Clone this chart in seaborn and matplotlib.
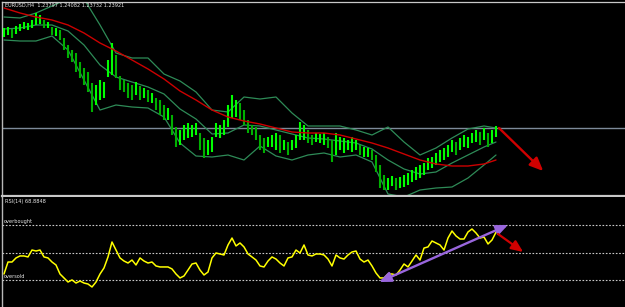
import numpy as np
import pandas as pd
import matplotlib
matplotlib.use("Agg")
import matplotlib.pyplot as plt
import seaborn as sns

# ---------------- data ----------------
title_text = "EURUSD,H4  1.23797 1.24082 1.23732 1.23921"
rsi_title = "RSI(14) 68.8848"
bid_price = 1.2392

bar_high = [1.2592, 1.2594, 1.2590, 1.2596, 1.2600, 1.2604, 1.2602, 1.2608, 1.2622, 1.2618,
            1.2608, 1.2604, 1.2594, 1.2592, 1.2588, 1.2572, 1.2558, 1.2548, 1.2542, 1.2524,
            1.2512, 1.2504, 1.2482, 1.2478, 1.2488, 1.2484, 1.2528, 1.2562, 1.2538, 1.2496,
            1.2488, 1.2482, 1.2478, 1.2484, 1.2476, 1.2472, 1.2468, 1.2462, 1.2452, 1.2448,
            1.2438, 1.2432, 1.2418, 1.2394, 1.2388, 1.2398, 1.2402, 1.2398, 1.2402, 1.2382,
            1.2372, 1.2368, 1.2374, 1.2402, 1.2398, 1.2408, 1.2438, 1.2458, 1.2448, 1.2442,
            1.2428, 1.2408, 1.2398, 1.2394, 1.2378, 1.2372, 1.2374, 1.2378, 1.2382, 1.2378,
            1.2368, 1.2364, 1.2368, 1.2378, 1.2404, 1.2398, 1.2388, 1.2378, 1.2382, 1.2380,
            1.2382, 1.2374, 1.2368, 1.2382, 1.2374, 1.2372, 1.2368, 1.2374, 1.2368, 1.2358,
            1.2354, 1.2352, 1.2348, 1.2338, 1.2318, 1.2298, 1.2292, 1.2296, 1.2292, 1.2294,
            1.2298, 1.2302, 1.2308, 1.2314, 1.2318, 1.2322, 1.2332, 1.2334, 1.2342, 1.2348,
            1.2352, 1.2358, 1.2368, 1.2364, 1.2372, 1.2378, 1.2374, 1.2382, 1.2388, 1.2384,
            1.2392, 1.2382, 1.2388, 1.2396]
bar_low = [1.2574, 1.2578, 1.2572, 1.2580, 1.2586, 1.2590, 1.2588, 1.2592, 1.2598, 1.2600,
           1.2592, 1.2592, 1.2578, 1.2576, 1.2568, 1.2548, 1.2532, 1.2524, 1.2504, 1.2492,
           1.2478, 1.2464, 1.2424, 1.2438, 1.2448, 1.2452, 1.2494, 1.2498, 1.2492, 1.2468,
           1.2464, 1.2452, 1.2448, 1.2458, 1.2448, 1.2452, 1.2444, 1.2442, 1.2428, 1.2418,
           1.2408, 1.2408, 1.2378, 1.2354, 1.2358, 1.2368, 1.2372, 1.2374, 1.2378, 1.2348,
           1.2332, 1.2338, 1.2344, 1.2374, 1.2372, 1.2378, 1.2394, 1.2412, 1.2414, 1.2408,
           1.2398, 1.2382, 1.2378, 1.2368, 1.2348, 1.2342, 1.2354, 1.2354, 1.2348, 1.2342,
           1.2348, 1.2338, 1.2348, 1.2352, 1.2368, 1.2368, 1.2362, 1.2358, 1.2364, 1.2362,
           1.2358, 1.2352, 1.2324, 1.2338, 1.2348, 1.2342, 1.2348, 1.2344, 1.2348, 1.2338,
           1.2334, 1.2334, 1.2328, 1.2304, 1.2272, 1.2268, 1.2268, 1.2276, 1.2268, 1.2272,
           1.2274, 1.2278, 1.2284, 1.2288, 1.2292, 1.2298, 1.2308, 1.2312, 1.2318, 1.2324,
           1.2328, 1.2334, 1.2344, 1.2338, 1.2348, 1.2354, 1.2352, 1.2362, 1.2364, 1.2358,
           1.2368, 1.2354, 1.2362, 1.2374]

band_idx = [0, 4, 8, 12, 16, 20, 24, 28, 32, 36, 40, 44, 48, 52, 56, 60,
            64, 68, 72, 76, 80, 84, 88, 92, 96, 100, 104, 108, 112, 116, 120, 123]
bb_upper = [1.2614, 1.2612, 1.2622, 1.2636, 1.2650, 1.2650, 1.2598, 1.2542, 1.2532, 1.2532,
            1.2500, 1.2486, 1.2464, 1.2428, 1.2424, 1.2454, 1.2450, 1.2454, 1.2422, 1.2396,
            1.2396, 1.2396, 1.2388, 1.2378, 1.2394, 1.2364, 1.2338, 1.2352, 1.2372, 1.2390,
            1.2396, 1.2392]
bb_middle = [1.2590, 1.2592, 1.2598, 1.2598, 1.2586, 1.2558, 1.2518, 1.2494, 1.2484, 1.2474,
             1.2460, 1.2430, 1.2410, 1.2380, 1.2382, 1.2398, 1.2396, 1.2388, 1.2380, 1.2372,
             1.2370, 1.2366, 1.2362, 1.2350, 1.2328, 1.2310, 1.2300, 1.2304, 1.2322, 1.2338,
             1.2354, 1.2364]
bb_lower = [1.2568, 1.2566, 1.2566, 1.2576, 1.2548, 1.2488, 1.2428, 1.2438, 1.2434, 1.2432,
            1.2414, 1.2362, 1.2336, 1.2334, 1.2338, 1.2328, 1.2356, 1.2336, 1.2328, 1.2338,
            1.2342, 1.2334, 1.2338, 1.2324, 1.2260, 1.2254, 1.2268, 1.2272, 1.2274, 1.2292,
            1.2318, 1.2338]
ma_slow = [1.2632, 1.2622, 1.2614, 1.2608, 1.2598, 1.2582, 1.2562, 1.2546, 1.2528, 1.2510,
           1.2490, 1.2466, 1.2448, 1.2428, 1.2414, 1.2406, 1.2400, 1.2392, 1.2384, 1.2382,
           1.2382, 1.2378, 1.2370, 1.2362, 1.2352, 1.2340, 1.2328, 1.2320, 1.2316, 1.2316,
           1.2320, 1.2328]

rsi_values = [30.9, 41.8, 41.8, 45.5, 47.3, 47.3, 46.4, 52.7, 51.8, 52.7,
              46.4, 45.5, 41.8, 39.1, 30.9, 27.3, 23.6, 25.5, 22.7, 24.5,
              22.7, 21.8, 19.1, 23.6, 30.9, 36.4, 46.4, 60.0, 52.7, 45.5,
              42.7, 40.9, 43.6, 39.1, 45.5, 42.7, 40.9, 41.8, 38.2, 37.3,
              37.3, 37.3, 35.5, 30.9, 27.3, 29.1, 34.5, 40.0, 40.9, 34.5,
              30.0, 32.7, 45.5, 50.0, 49.1, 48.2, 57.3, 63.6, 56.4, 59.1,
              55.5, 49.1, 46.4, 43.6, 38.2, 37.3, 42.7, 46.4, 44.5, 40.9,
              38.2, 45.5, 46.4, 52.7, 50.0, 57.3, 48.2, 47.3, 49.1, 49.1,
              48.2, 44.5, 38.2, 48.2, 45.5, 44.5, 48.2, 50.9, 51.8, 44.5,
              41.8, 43.6, 38.2, 31.8, 27.3, 27.3, 30.9, 30.9, 30.0, 34.5,
              40.0, 37.3, 42.7, 48.2, 43.6, 54.5, 55.5, 60.9, 59.1, 57.3,
              52.7, 63.6, 70.0, 65.5, 62.7, 62.7, 69.1, 71.8, 68.2, 63.6,
              64.5, 58.2, 61.8, 68.88]
rsi_levels = [75, 50, 25]
level_names = ["overbought", "oversold"]

# arrows (start, end) in data units
price_arrow = [(123.75, 1.2392), (134.8, 1.2306)]
rsi_up_arrow = [(93.8, 23.6), (126.0, 75.5)]
rsi_down_arrow = [(123.5, 67.3), (129.8, 50.9)]

# ---------------- figure ----------------
W, H = 625, 307
fig = plt.figure(figsize=(W / 100, H / 100), dpi=100, facecolor="black")
sns.set_style("dark")

def frac(x0, y0, x1, y1):
    return [x0 / W, 1 - y1 / H, (x1 - x0) / W, (y1 - y0) / H]

ax1 = fig.add_axes(frac(2, 1.5, 626, 196))
ax2 = fig.add_axes(frac(2, 197, 626, 307))
for ax in (ax1, ax2):
    ax.set_facecolor("black")
    ax.set_xticks([])
    ax.set_yticks([])
    ax.grid(False)
    ax.set_xlim(-0.5, 155.5)
    for s in ax.spines.values():
        s.set_visible(False)
    ax.spines["left"].set_visible(True)
    ax.spines["left"].set_color("#b8b8b8")
    ax.spines["left"].set_linewidth(1.0)
ax1.spines["top"].set_visible(True)
ax1.spines["top"].set_color("#c8c8c8")
ax1.spines["top"].set_linewidth(0.9)
ax1.spines["bottom"].set_visible(True)
ax1.spines["bottom"].set_color("#c8c8c8")
ax1.spines["bottom"].set_linewidth(1.6)

ax1.set_ylim(1.2256, 1.2645)
ax2.set_ylim(0.9, 100.9)

# price bars
n = len(bar_high)
bars = pd.DataFrame({"idx": np.arange(n), "high": bar_high, "low": bar_low})
mid = (bars["high"] + bars["low"]) / 2
up = mid.diff().fillna(0) >= -0.0004
ax1.axhline(bid_price, color="#7d8a99", lw=1.0, zorder=1)
ax1.vlines(bars["idx"][up], bars["low"][up], bars["high"][up], color="#00ff00", lw=1.5, zorder=3)
ax1.vlines(bars["idx"][~up], bars["low"][~up], bars["high"][~up], color="#00b000", lw=1.5, zorder=3)

bands = pd.DataFrame({"idx": band_idx, "upper": bb_upper, "middle": bb_middle,
                      "lower": bb_lower, "ma": ma_slow})
for col in ["upper", "middle", "lower"]:
    sns.lineplot(data=bands, x="idx", y=col, ax=ax1, color="#2e8b57", lw=0.9, zorder=2)
sns.lineplot(data=bands, x="idx", y="ma", ax=ax1, color="#cc0000", lw=1.0, zorder=4)
ax1.set_xlabel("")
ax1.set_ylabel("")

ax1.annotate("", xy=price_arrow[1], xytext=price_arrow[0],
             arrowprops=dict(arrowstyle="-|>,head_length=0.8,head_width=0.35",
                             color="#d00000", lw=1.7, shrinkA=0, shrinkB=0))

# RSI
rsi_df = pd.DataFrame({"idx": np.arange(n), "rsi": rsi_values})
for lv in rsi_levels:
    ax2.axhline(lv, color="#c8c8c8", lw=0.8, ls=(0, (1.5, 1.5)), zorder=1)
sns.lineplot(data=rsi_df, x="idx", y="rsi", ax=ax2, color="#ffff00", lw=1.1, zorder=3)
ax2.set_xlabel("")
ax2.set_ylabel("")
ax2.annotate("", xy=rsi_up_arrow[1], xytext=rsi_up_arrow[0],
             arrowprops=dict(arrowstyle="<|-|>,head_length=0.7,head_width=0.3",
                             color="#9966dd", lw=1.7, shrinkA=0, shrinkB=0), zorder=4)
ax2.annotate("", xy=rsi_down_arrow[1], xytext=rsi_down_arrow[0],
             arrowprops=dict(arrowstyle="-|>,head_length=0.7,head_width=0.3",
                             color="#d00000", lw=1.6, shrinkA=0, shrinkB=0), zorder=4)

# texts
txt = dict(color="#e8e8e8", fontsize=3.6, va="center", ha="left", family="DejaVu Sans")
fig.text(5 / W, 1 - 5.5 / H, title_text, **txt)
fig.text(5 / W, 1 - 201 / H, rsi_title, **txt)
fig.text(4 / W, 1 - 222 / H, level_names[0], **txt)
fig.text(4 / W, 1 - 277 / H, level_names[1], **txt)

fig.savefig("out.png", dpi=100, facecolor="black")
